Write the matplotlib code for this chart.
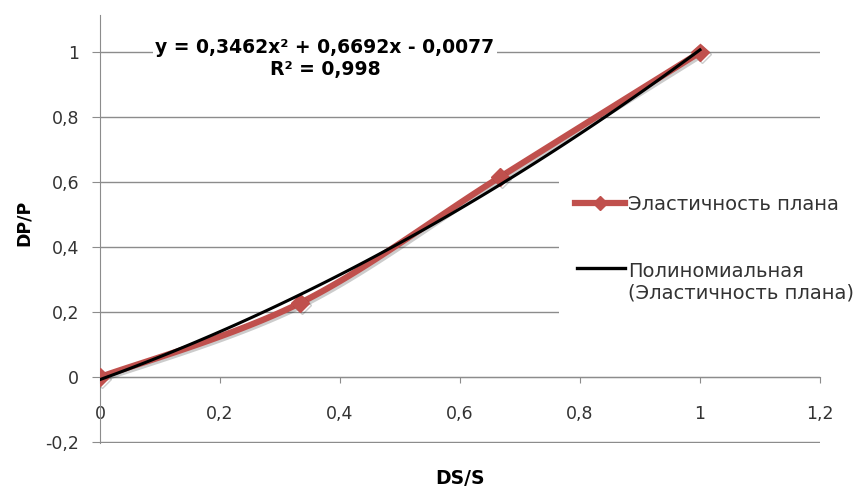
import numpy as np
from matplotlib import pyplot as plt
from matplotlib.lines import Line2D
from matplotlib.patches import Rectangle
from matplotlib.ticker import FuncFormatter, MultipleLocator
import matplotlib.patheffects as pe

plt.rcParams['font.family'] = ['DejaVu Sans']

# data
ds_s = [0.0, 1 / 3, 2 / 3, 1.0]
dp_p = [0.0, 0.228, 0.616, 1.0]
coef = [0.3462, 0.6692, -0.0077]  # trendline y = a*x^2 + b*x + c
series_name = 'Эластичность плана'
trend_name = 'Полиномиальная\n(Эластичность плана)'
eq_text = 'y = 0,3462x² + 0,6692x - 0,0077\nR² = 0,998'

RED = '#C0504D'
GRID = '#8C8C8C'
TXT = '#333333'


def smooth(xs, ys, n=40):
    # catmull-rom like excel smoothed line
    px = [xs[0]] + list(xs) + [xs[-1]]
    py = [ys[0]] + list(ys) + [ys[-1]]
    ox, oy = [], []
    t = np.linspace(0, 1, n)
    for i in range(1, len(px) - 2):
        p0 = np.array([px[i-1], py[i-1]])
        p1 = np.array([px[i], py[i]])
        p2 = np.array([px[i+1], py[i+1]])
        p3 = np.array([px[i+2], py[i+2]])
        c1 = p1 + (p2 - p0) / 6
        c2 = p2 - (p3 - p1) / 6
        for tt in t:
            pt = (1-tt)**3*p1 + 3*(1-tt)**2*tt*c1 + 3*(1-tt)*tt**2*c2 + tt**3*p2
            ox.append(pt[0])
            oy.append(pt[1])
    return ox, oy


W, H = 861, 488
fig = plt.figure(figsize=(W / 100, H / 100), dpi=100)
ax = fig.add_axes([100 / W, 1 - 443 / H, 720 / W, 428 / H])

ax.set_xlim(0, 1.2)
ax.set_ylim(-0.203, 1.115)
ax.xaxis.set_major_locator(MultipleLocator(0.2))
fmt = FuncFormatter(lambda v, p: ('%g' % round(v, 2)).replace('.', ','))
ax.xaxis.set_major_formatter(fmt)
ax.yaxis.set_major_formatter(fmt)
ax.set_yticks([-0.2, 0, 0.2, 0.4, 0.6, 0.8, 1.0])

ax.grid(axis='y', color=GRID, linewidth=1)
ax.set_axisbelow(True)
for s in ['top', 'right']:
    ax.spines[s].set_visible(False)
ax.spines['bottom'].set_position(('data', 0))
ax.spines['bottom'].set_color(GRID)
ax.spines['left'].set_color(GRID)
ax.tick_params(axis='x', direction='out', length=4, color=GRID, pad=16, labelsize=12.5, labelcolor=TXT)
ax.tick_params(axis='y', direction='out', length=6, color=GRID, pad=9, labelsize=12.5, labelcolor=TXT)

sx, sy = smooth(ds_s, dp_p)
shadow = [pe.SimpleLineShadow(offset=(1.5, -1.5), alpha=0.2), pe.Normal()]
ax.plot(sx, sy, color=RED, linewidth=4.5, solid_capstyle='round', path_effects=shadow, zorder=3)
ax.plot(ds_s, dp_p, linestyle='none', marker='D', markersize=9, color=RED, path_effects=shadow, zorder=3)

tx = np.linspace(min(ds_s), max(ds_s), 100)
ax.plot(tx, np.polyval(coef, tx), color='black', linewidth=2.2, zorder=4)

ax.text(0.375, 0.98, eq_text, ha='center', va='center', fontsize=13.5,
        fontweight='bold', multialignment='center',
        bbox=dict(facecolor='white', edgecolor='none', pad=2), zorder=5)

ax.set_xlabel('DS/S', fontsize=13.5, fontweight='bold')
ax.xaxis.set_label_coords(0.5, -0.06)
ax.set_ylabel('DP/P', fontsize=12.5, fontweight='bold')
ax.yaxis.set_label_coords(-0.093, 0.515)

# legend, drawn by hand so the handle sits on the first text line
fig.add_artist(Rectangle((559 / W, 1 - 330 / H), 302 / W, 180 / H, facecolor='white', edgecolor='none',
                         transform=fig.transFigure))
fig.add_artist(Line2D([575 / W, 625 / W], [1 - 203 / H] * 2, color=RED, linewidth=4.5,
                      transform=fig.transFigure))
fig.add_artist(Line2D([600 / W], [1 - 203 / H], color=RED, marker='D', markersize=7,
                      transform=fig.transFigure))
fig.text(628 / W, 1 - 204 / H, series_name, ha='left', va='center', fontsize=14, color=TXT)
fig.add_artist(Line2D([577 / W, 625 / W], [1 - 268 / H] * 2, color='black', linewidth=2.4,
                      transform=fig.transFigure))
fig.text(628 / W, 1 - 282 / H, trend_name, ha='left', va='center', fontsize=14, color=TXT,
         linespacing=1.15)

fig.savefig('out.png', dpi=100)
